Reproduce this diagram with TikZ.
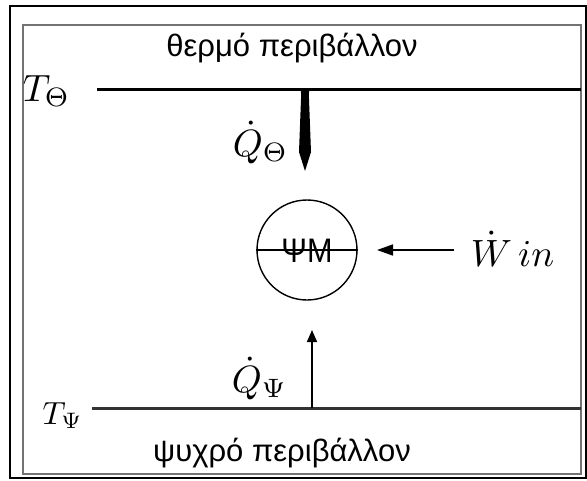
\documentclass[tikz,border=0pt]{standalone}
\usepackage{fontspec}
\setmainfont{Liberation Sans}
\usetikzlibrary{arrows.meta}
\tikzset{
  x=1pt, y=-1pt,
  greektext/.style={inner sep=0pt, font=\fontsize{31}{36}\selectfont},
  mathlab/.style={inner sep=0pt, scale=3.8},
  levelline/.style={line width=3pt, color=black},
  flowarrow/.style={line width=1.5pt, -{Triangle[length=12pt,width=10pt]}},
}
\begin{document}
\begin{tikzpicture}
\useasboundingbox (0,0) rectangle (587,480);
\fill[white] (0,0) rectangle (587,480);
% frames
\draw[line width=2.4pt, black] (10,6) rectangle (586,478);
\draw[line width=2pt, black!55] (23,25) rectangle (581,474);
% top environment
\node[greektext] (hot) at (292,48) {θερμό περιβάλλον};
\node[mathlab, anchor=base west] (TH) at (22,101) {$T_{\Theta}$};
\coordinate (hl) at (97,89);
\coordinate (hr) at (581,89);
\draw[levelline] (hl) -- (hr);
% tapered heat flow from hot reservoir
\fill[black] (297,88) .. controls (302,88) and (301,92) .. (301,99)
  -- (299,152) -- (305,171) -- (311,152) -- (309,99)
  .. controls (309,92) and (308,88) .. (313,88) -- cycle;
\node[mathlab, anchor=base west] (QH) at (232,156) {$\dot{Q}_{\Theta}$};
% heat pump
\node[draw, circle, line width=1.4pt, minimum size=100pt, inner sep=0pt] (hp) at (307,250) {};
\draw[line width=1.4pt] (hp.west) -- (hp.east);
\node[inner sep=0pt, font=\fontsize{34}{40}\selectfont, xscale=0.9] (hpl) at (307,251) {ΨΜ};
% work input
\node[inner sep=0pt, scale=3.8, anchor=base west] (W) at (470,266) {$\dot{W}\,in$};
\coordinate (wstart) at (454,250);
\coordinate (wend) at (377,250);
\draw[line width=1.6pt, -{Triangle[length=16pt,width=11pt]}] (wstart) -- (wend);
% bottom environment
\coordinate (cl) at (92,408);
\coordinate (cr) at (581,408);
\draw[levelline, color=black!80] (cl) -- (cr);
\node[inner sep=0pt, scale=3.2, anchor=base west] (TC) at (42,424) {$T_{\Psi}$};
\coordinate (cb) at (312,408);
\coordinate (ct) at (312,330);
\draw[flowarrow] (cb) -- (ct);
\node[mathlab, anchor=base west] (QC) at (231,392) {$\dot{Q}_{\Psi}$};
\node[greektext] (cold) at (282,453) {ψυχρό περιβάλλον};
\end{tikzpicture}
\end{document}
